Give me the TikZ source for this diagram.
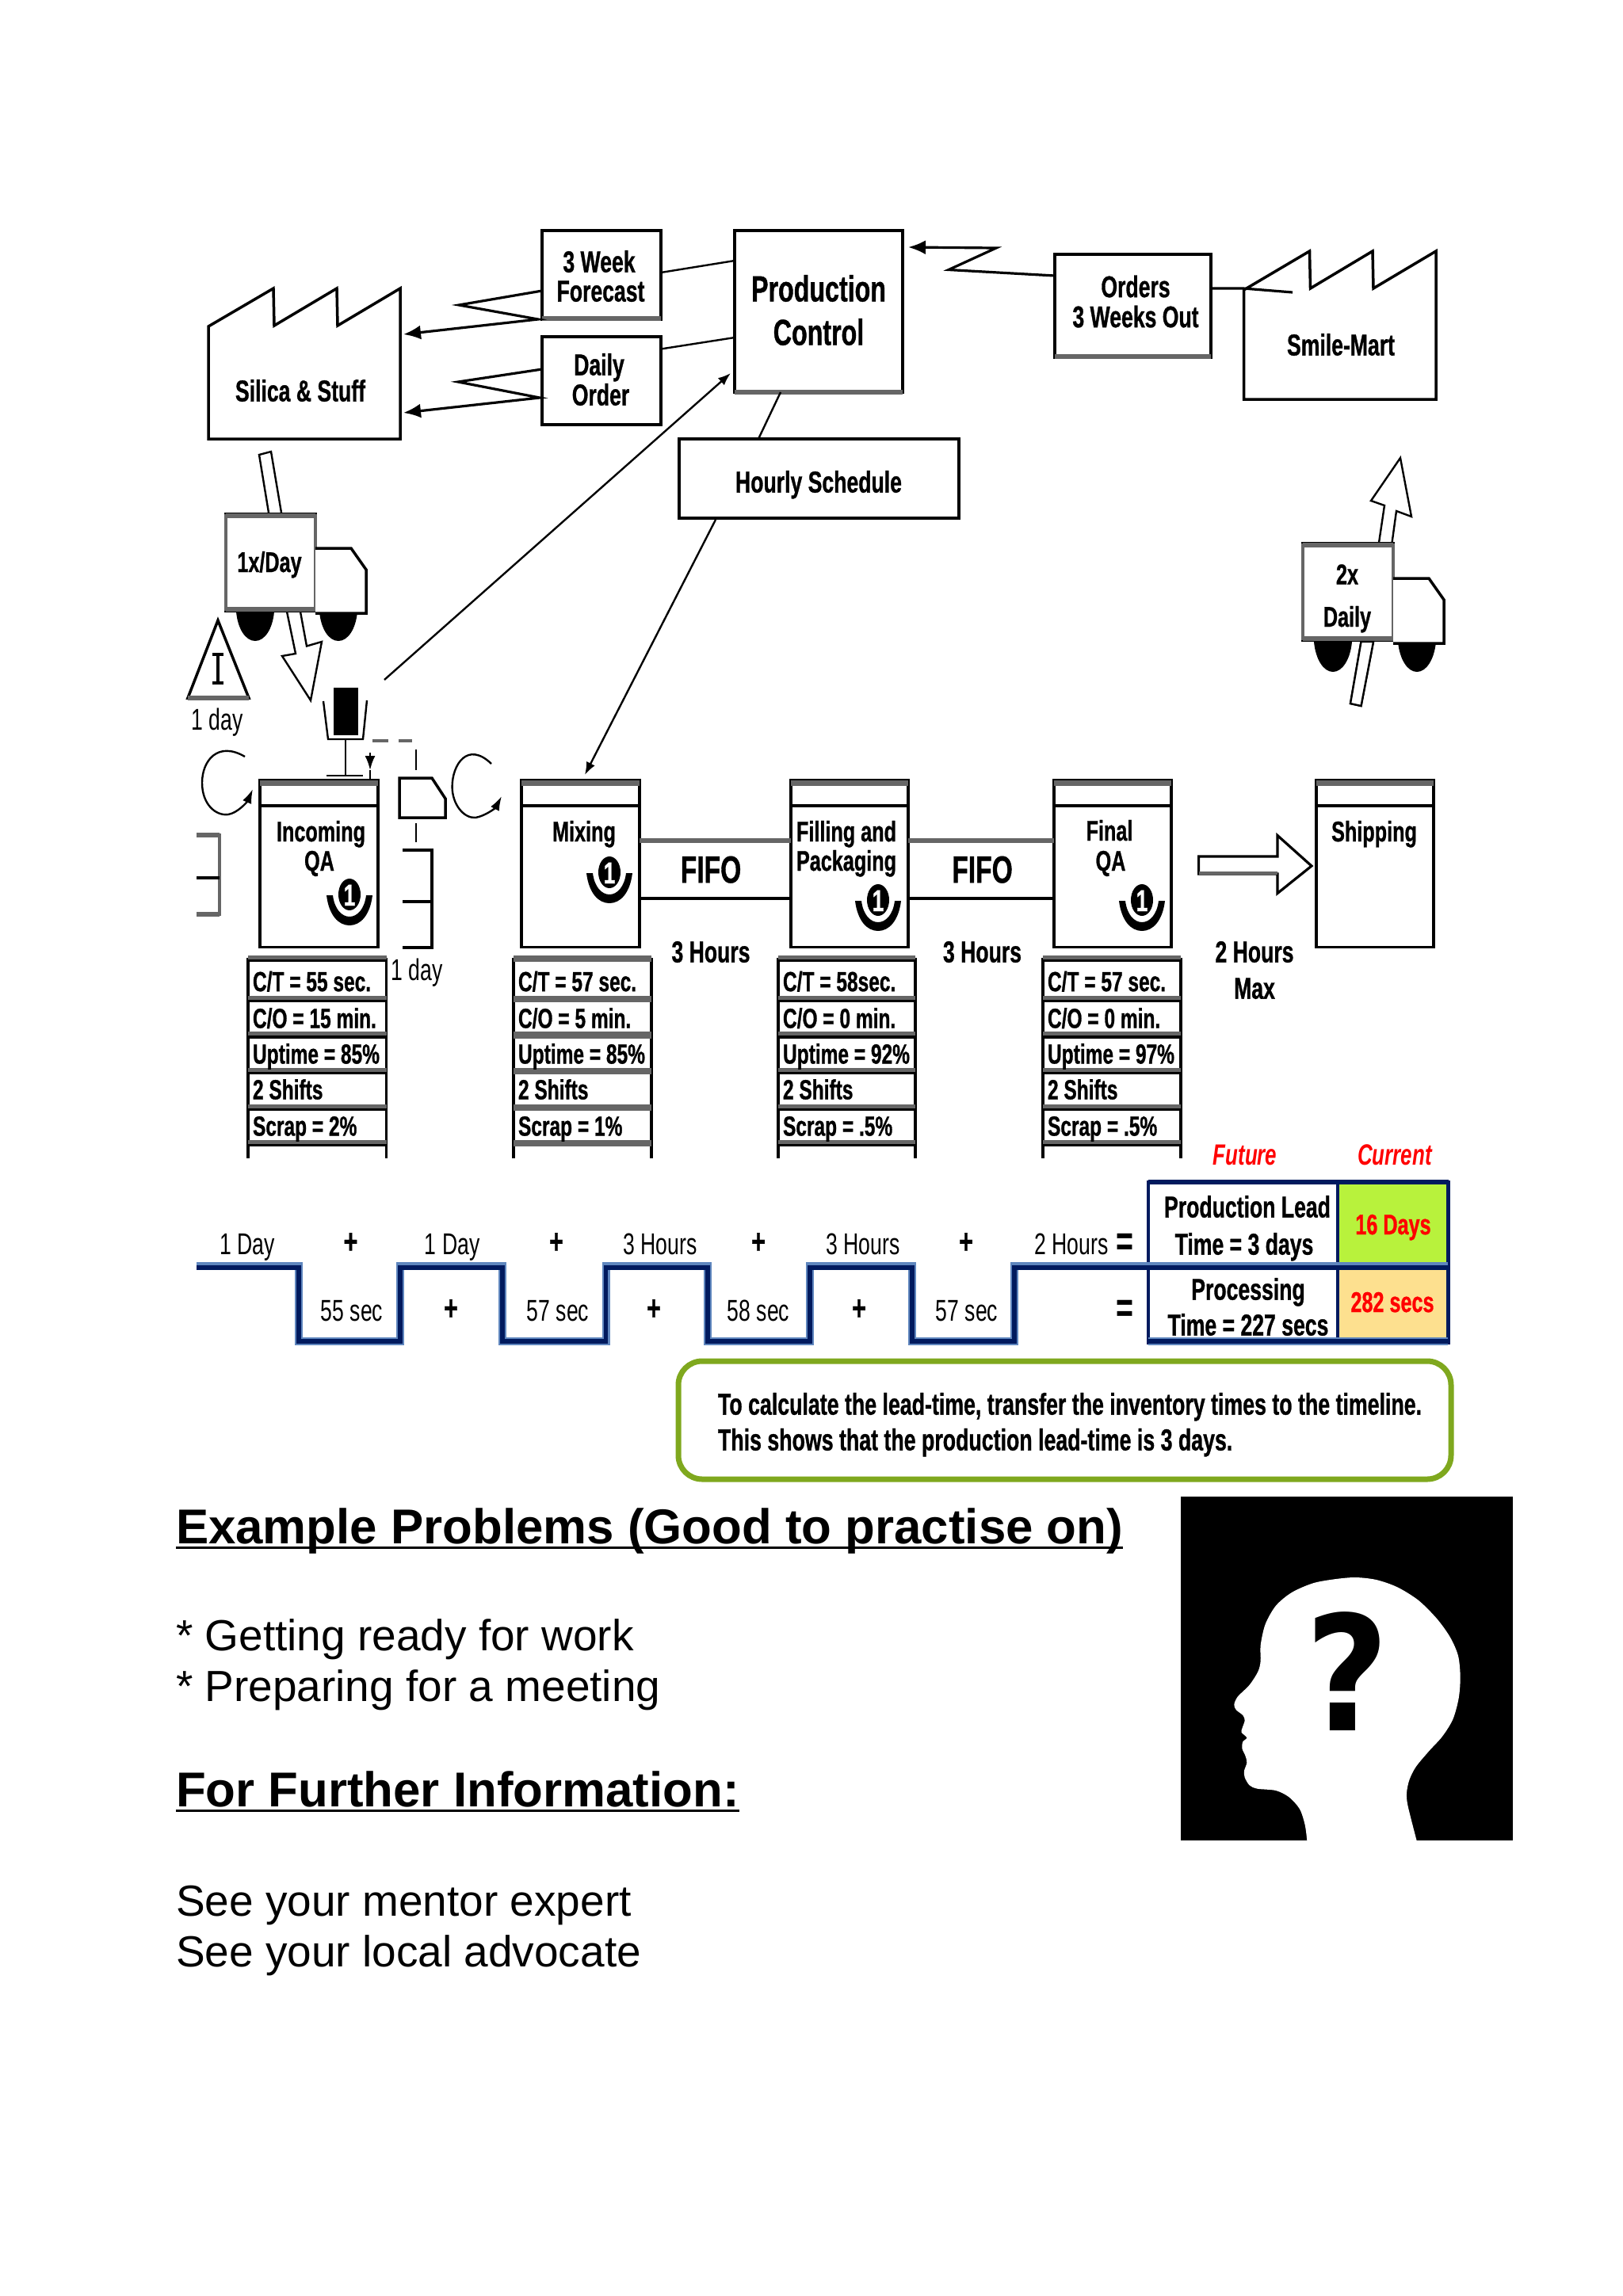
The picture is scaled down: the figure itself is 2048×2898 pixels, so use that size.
\documentclass[tikz,border=0pt]{standalone}
\usepackage{fontspec}
\usetikzlibrary{arrows.meta}
\setmainfont{Liberation Sans}
\newfontfamily\diafont[FakeStretch=0.7,BoldFeatures={FakeBold=0.8}]{Liberation Sans}
\newfontfamily\qfont[FakeStretch=0.9]{DejaVu Sans}
\definecolor{bandgrey}{HTML}{666666}
\definecolor{tlnavy}{HTML}{001A5E}
\definecolor{tlblue}{HTML}{5F86BE}
\definecolor{okgreen}{HTML}{B8F23C}
\definecolor{wheat}{HTML}{FDE08F}
\definecolor{olive}{HTML}{7FA81E}
\tikzset{
  ink/.style={line width=1.75pt,draw=black,line join=miter},
  thin ink/.style={line width=1.2pt,draw=black},
  band/.style={line width=3.2pt,draw=bandgrey},
  boxnode/.style={rectangle,ink,fill=white,inner sep=0pt,outer sep=0pt},
  lb/.style={inner sep=0pt,outer sep=0pt,font=\diafont\bfseries\fontsize{18}{20}\selectfont,text height=13pt,text depth=0pt},
  lbx/.style={lb,font=\diafont\bfseries\fontsize{19}{21}\selectfont,text height=13.6pt},
  lr/.style={inner sep=0pt,outer sep=0pt,font=\diafont\fontsize{19}{21}\selectfont,text height=13.6pt,text depth=0pt},
  lpc/.style={lb,font=\diafont\bfseries\fontsize{23}{25}\selectfont,text height=16.5pt},
  lfifo/.style={lb,font=\diafont\bfseries\fontsize{24}{26}\selectfont,text height=17.2pt},
  lplus/.style={lb,font=\diafont\bfseries\fontsize{22}{24}\selectfont,text height=11pt},
  leq/.style={lb,font=\diafont\bfseries\fontsize{26}{28}\selectfont,text height=11pt},
  lred/.style={lb,text=red},
  lfut/.style={lb,text=red,font=\diafont\bfseries\itshape\fontsize{18.5}{20}\selectfont},
  lcall/.style={lb,anchor=west,font=\diafont\bfseries\fontsize{19.1}{21}\selectfont,text height=13.6pt},
  lrow/.style={lb,anchor=west,font=\diafont\bfseries\fontsize{17.5}{20}\selectfont,text height=12.5pt},
  body/.style={inner sep=0pt,outer sep=0pt,anchor=base west,font=\fontsize{27.5}{30}\selectfont},
  head/.style={body,font=\bfseries\fontsize{30.9}{33}\selectfont},
  headrule/.style={line width=1.75pt,draw=black},
  sig/.style={line width=1.6pt,draw=black,-{Latex[length=11pt,width=9pt]}},
  sigthin/.style={thin ink,-{Latex[length=8pt,width=6pt]}},
  push/.style={thin ink,fill=white,line join=miter},
  tlb/.style={line width=5pt,draw=tlblue,line join=miter},
  tln/.style={line width=2.6pt,draw=tlnavy,line join=miter},
}
\newcommand{\pxbox}[6][]{\node[boxnode,#1,minimum width={(#5-#3)*0.5pt},minimum height={(#6-#4)*0.5pt}] (#2) at ({(#3+#5)/2},{(#4+#6)/2}) {};}
% name xl xr
\newcommand{\procbox}[3]{\pxbox{#1}{#2}{985}{#3}{1195.5}
  \draw[ink] (#2,1017) -- (#3,1017);
  \draw[band] (#2,988.5) -- (#3,988.5);}
% name xl xr colour t1..t5
\newcommand{\datarows}[8]{%
  \draw[ink] (#2,1209) -- (#2,1462) (#3,1209) -- (#3,1462);
  \foreach \yy in {1209,1260,1305.5,1351,1397,1442}{
    \draw[band] (#2,\yy) -- (#3,\yy);
    \draw[line width=1.6pt,draw=#4] (#2,{\yy+3.5}) -- (#3,{\yy+3.5});}
  \node[lrow] (#1ct) at ({#2+6},1238.6) {#5};
  \node[lrow] (#1co) at ({#2+6},1285) {#6};
  \node[lrow] (#1up) at ({#2+6},1330) {#7};
  \node[lrow] (#1sh) at ({#2+6},1375) {2 Shifts};
  \node[lrow] (#1sc) at ({#2+6},1421) {#8};}
% name x y : operator symbol
\newcommand{\opsym}[3]{%
  \fill[black] ({#2-29},{#3+1}) .. controls ({#2-26},{#3+26}) and ({#2-14},{#3+39}) .. ({#2},{#3+39}) .. controls ({#2+14},{#3+39}) and ({#2+26},{#3+26}) .. ({#2+29},{#3+1}) -- ({#2+21},{#3+1}) .. controls ({#2+19},{#3+18}) and ({#2+10},{#3+28}) .. ({#2},{#3+28}) .. controls ({#2-10},{#3+28}) and ({#2-19},{#3+18}) .. ({#2-21},{#3+1}) -- cycle;
  \fill[black] (#2,#3) ellipse [x radius=14,y radius=20];
  \node[lb,text=white,font=\diafont\bfseries\fontsize{19}{21}\selectfont,text height=14pt] (#1) at (#2,#3) {1};}
\newcommand{\wheel}[3]{\fill[black] ({#1-24},#2) .. controls ({#1-22},{#2+22}) and ({#1-12},#3) .. (#1,#3) .. controls ({#1+12},#3) and ({#1+22},{#2+22}) .. ({#1+24},#2) -- cycle;}
\begin{document}
\begin{tikzpicture}[x=0.5pt,y=-0.5pt]
\useasboundingbox[fill=white] (0,0) rectangle (2048,2898);

% --- Supplier factory
\draw[ink,fill=white] (263,412) -- (345,364) -- (346,411) -- (425,364) -- (426,411) -- (505,364) -- (505,554) -- (263,554) -- cycle;
\node[lbx] (silica) at (379,493) {Silica \& Stuff};

% --- Information boxes
\pxbox{forecast}{684}{291}{834}{403}
\draw[band] (684,402) -- (834,402);
\node[lbx] (forecastA) at (756,330) {3 Week};
\node[lbx] (forecastB) at (758,367) {Forecast};
\pxbox{daily}{684}{425}{834}{536}
\node[lbx] (dailyA) at (756,460) {Daily};
\node[lbx] (dailyB) at (758,498) {Order};
\pxbox{pc}{927}{291}{1139}{495}
\draw[band] (927,495) -- (1139,495);
\node[lpc] (pcA) at (1033,364) {Production};
\node[lpc] (pcB) at (1033,419) {Control};
\pxbox{hourly}{857}{554}{1210}{654}
\node[lbx] (hourlyT) at (1033,608) {Hourly Schedule};
\pxbox{orders}{1331}{321}{1528}{451}
\draw[band] (1331,450) -- (1528,450);
\node[lbx] (ordersA) at (1433,361.5) {Orders};
\node[lbx] (ordersB) at (1433,399.5) {3 Weeks Out};

% --- Customer factory
\draw[ink,fill=white] (1569.5,366) -- (1652.5,317) -- (1653.5,364) -- (1732,317) -- (1733,364) -- (1812,317) -- (1812,504) -- (1569.5,504) -- cycle;
\node[lbx] (smile) at (1692,435) {Smile-Mart};

% --- Connectors between the information boxes
\coordinate (fcW) at (684,367);
\coordinate (fcE) at (834,344);
\coordinate (dyW) at (684,466);
\coordinate (dyE) at (834,440.5);
\coordinate (pcF) at (927,329);
\coordinate (pcD) at (927,426);
\coordinate (silF) at (509,422);
\coordinate (silD) at (509,521);
\draw[thin ink] (fcE) -- (pcF);
\draw[thin ink] (dyE) -- (pcD);
\draw[sig] (fcW) -- (579,385) -- (679,403) -- (silF);
\draw[sig] (dyW) -- (578,482) -- (681,502) -- (silD);
\coordinate (ordW) at (1331,348);
\coordinate (ordE) at (1528,364);
\coordinate (pcO) at (1146,312);
\coordinate (smileW) at (1631,369);
\draw[sig] (ordW) -- (1197,340.5) -- (1257,313) -- (pcO);
\draw[line width=1.6pt,draw=black] (ordE) -- (1569,364) -- (smileW);
\draw[thin ink] (pc.south west) ++(58,0) coordinate (pcS) -- (957,554);
\coordinate (armT) at (485,858);
\coordinate (pcT) at (922,471);
\draw[sigthin] (armT) -- (pcT);
\coordinate (hourS) at (903,656);
\coordinate (mixT) at (738,978);
\draw[sigthin] (hourS) -- (mixT);

% --- Inbound truck and push arrow
\draw[push] (327,574) -- (342,570) -- (355,647) -- (379,772) -- (387,815.5) -- (406,810) -- (392,884) -- (356,828) -- (373,825) -- (362,772) -- (339,647) -- cycle;
\wheel{322}{772}{809}
\wheel{427}{772}{809}
\pxbox{truckA}{285}{649}{398}{771}
\draw[band] (285,651) -- (398,651) (285,769) -- (398,769);
\draw[line width=1.75pt,draw=bandgrey] (285,649) -- (285,771) (398,649) -- (398,771);
\draw[ink,fill=white] (398,692) -- (443,692) -- (462,719) -- (462,774) -- (398,774);
\node[lb] (truckAT) at (340,709) {1x/Day};

% --- Outbound truck and push arrow
\draw[push] (1704,888) -- (1717.5,891) -- (1733,810) -- (1756.5,685) -- (1762,645) -- (1781,652) -- (1767,578) -- (1730,632) -- (1747,638) -- (1740,685) -- (1717.5,810) -- cycle;
\wheel{1682}{810}{848}
\wheel{1788}{810}{848}
\pxbox{truckB}{1644}{686}{1758}{808}
\draw[band] (1644,688) -- (1758,688) (1644,806) -- (1758,806);
\draw[line width=1.75pt,draw=bandgrey] (1644,686) -- (1644,808) (1758,686) -- (1758,808);
\draw[ink,fill=white] (1758,730) -- (1803,730) -- (1822,757) -- (1822,812) -- (1758,812);
\node[lb] (truckBa) at (1700,724.5) {2x};
\node[lb] (truckBb) at (1700,778) {Daily};
\draw[thin ink,fill=white] (1704,888) -- (1717.5,891) -- (1733,810) -- (1717.5,810) -- cycle;

% --- Inventory triangle
\draw[ink,fill=white] (275,783) -- (314,881) -- (237,881) -- cycle;
\draw[band] (237,881) -- (314,881);
\draw[line width=2pt] (275,826) -- (275,861.5) (268,826) -- (282,826) (268,861.5) -- (282,861.5);
\node[lr] (invday) at (274,908) {1 day};

% --- Data box, kanban post and signal
\draw[thin ink] (408,885) -- (414,933) -- (458,933) -- (463,884);
\fill[black] (421,868) rectangle (452,928);
\draw[thin ink] (436,933) -- (436,979) (412,979) -- (458,979);
\draw[band,line width=2.4pt] (470,935) -- (490,935) (503,935) -- (520,935);
\coordinate (kanTop) at (467,950);
\coordinate (kanHead) at (467,972);
\draw[thin ink,-{Latex[length=9pt,width=6.5pt]}] (kanTop) -- (kanHead);
\draw[thin ink] (kanHead) -- (467,987);
\draw[thin ink] (525,946) -- (525,972);
\draw[ink,fill=white] (504,982) -- (545,982) -- (562,1008) -- (562,1032) -- (504,1032) -- cycle;
\draw[thin ink] (525,1039) -- (525,1063);

% --- Load-levelling loops
\draw[thin ink,-{Latex[length=9pt,width=6pt]}] (309,955) .. controls (275,935) and (255,960) .. (255,988) .. controls (255,1015) and (272,1030) .. (288,1028) .. controls (300,1026) and (312,1012) .. (319,996);
\draw[thin ink,-{Latex[length=9pt,width=6pt]}] (620,964) .. controls (590,935) and (570.6,965) .. (570.6,993) .. controls (570.6,1015) and (585,1033) .. (600,1032) .. controls (612,1030) and (625,1020) .. (633,1005);

% --- Supermarkets
\draw[ink] (508,1073) -- (545,1073) -- (545,1196) -- (508,1196) (508,1138) -- (545,1138);
\draw[band] (248,1054) -- (277,1054) (248,1154) -- (277,1154);
\draw[line width=1.75pt,draw=bandgrey] (277,1052) -- (277,1156);
\draw[ink] (248,1108) -- (277,1108);
\node[lr] (day2) at (526,1224) {1 day};

% --- Process boxes
\procbox{incoming}{328}{477}
\node[lb] (incA) at (405,1049) {Incoming};
\node[lb] (incB) at (403,1086) {QA};
\opsym{opA}{441}{1129}
\procbox{mixing}{658}{807}
\node[lb] (mixA) at (737,1049) {Mixing};
\opsym{opB}{769}{1101}
\procbox{filling}{998}{1146}
\node[lb,anchor=west] (filA) at (1005,1049) {Filling and};
\node[lb,anchor=west] (filB) at (1005,1086) {Packaging};
\opsym{opC}{1108}{1136}
\procbox{finalqa}{1330}{1478}
\node[lb] (finA) at (1400,1048) {Final};
\node[lb] (finB) at (1401.5,1086) {QA};
\opsym{opD}{1441}{1136}
\procbox{shipping}{1661}{1809}
\node[lb] (shipT) at (1734,1049) {Shipping};

% --- FIFO lanes
\draw[band] (mixing.east |- 0,1061) -- (filling.west |- 0,1061);
\draw[ink] (mixing.east |- 0,1134) -- (filling.west |- 0,1134);
\node[lfifo] (fifoA) at (897,1097) {FIFO};
\draw[band] (filling.east |- 0,1061) -- (finalqa.west |- 0,1061);
\draw[ink] (filling.east |- 0,1134) -- (finalqa.west |- 0,1134);
\node[lfifo] (fifoB) at (1239.5,1097) {FIFO};
\node[lbx] (hrsA) at (897,1201) {3 Hours};
\node[lbx] (hrsB) at (1239.5,1201) {3 Hours};
\node[lbx] (hrsC) at (1583,1201) {2 Hours};
\node[lbx] (hrsD) at (1583,1247) {Max};

% --- Push arrow to shipping
\draw[line width=1.6pt,draw=black,fill=white] (1512.6,1081) -- (1612,1081) -- (1612,1054.5) -- (1655,1093) -- (1612,1127.5) -- (1612,1103) -- (1512.6,1103) -- cycle;
\draw[band,line width=2.2pt] (1512.6,1102) -- (1612,1102);

% --- Data tables
\datarows{dA}{313}{487.5}{black}{C/T = 55 sec.}{C/O = 15 min.}{Uptime = 85\%}{Scrap = 2\%}
\datarows{dB}{648}{822}{bandgrey}{C/T = 57 sec.}{C/O = 5 min.}{Uptime = 85\%}{Scrap = 1\%}
\datarows{dC}{982}{1155}{black}{C/T = 58sec.}{C/O = 0 min.}{Uptime = 92\%}{Scrap = .5\%}
\datarows{dD}{1316}{1490}{black}{C/T = 57 sec.}{C/O = 0 min.}{Uptime = 97\%}{Scrap = .5\%}

% --- Lead-time table cells
\node[lfut] (future) at (1571,1457) {Future};
\node[lfut] (current) at (1760,1457) {Current};
\path[fill=okgreen] (1688,1494) rectangle (1827,1594);
\path[fill=wheat] (1688,1601) rectangle (1827,1690);
\draw[line width=2.6pt,draw=tlnavy] (1449,1492) -- (1827.5,1492);
\draw[line width=2.4pt,draw=tlnavy] (1449,1490) -- (1449,1697) (1827.5,1490) -- (1827.5,1697) (1688,1492) -- (1688,1693);
\node[lbx] (leadA) at (1574,1523) {Production Lead};
\node[lbx] (leadB) at (1570,1570) {Time = 3 days};
\node[lbx] (procA) at (1575,1627) {Processing};
\node[lbx] (procB) at (1575,1672) {Time = 227 secs};
\node[lred] (days) at (1758,1545) {16 Days};
\node[lred] (secs) at (1757,1643) {282 secs};

% --- Timeline
\draw[tlb] (248,1598) -- (377,1598) -- (377,1693) -- (505,1693) -- (505,1598) -- (634,1598) -- (634,1693) -- (764.5,1693) -- (764.5,1598) -- (893,1598) -- (893,1693) -- (1022,1693) -- (1022,1598) -- (1151,1598) -- (1151,1693) -- (1280,1693) -- (1280,1598) -- (1827,1598);
\draw[tlb] (1449,1693) -- (1827,1693);
\draw[tln] (248,1600) -- (377,1600) -- (377,1693) -- (505,1693) -- (505,1600) -- (634,1600) -- (634,1693) -- (764.5,1693) -- (764.5,1600) -- (893,1600) -- (893,1693) -- (1022,1693) -- (1022,1600) -- (1151,1600) -- (1151,1693) -- (1280,1693) -- (1280,1600) -- (1827,1600);
\draw[tln] (1449,1693) -- (1827,1693);
\node[lr] (t1) at (312,1570) {1 Day};
\node[lplus] (p1) at (442.5,1571) {+};
\node[lr] (t2) at (570.6,1570) {1 Day};
\node[lplus] (p2) at (702,1571) {+};
\node[lr] (t3) at (833,1570) {3 Hours};
\node[lplus] (p3) at (957,1571) {+};
\node[lr] (t4) at (1089,1570) {3 Hours};
\node[lplus] (p4) at (1219,1571) {+};
\node[lr] (t5) at (1352,1570) {2 Hours};
\node[leq] (e1) at (1419,1573) {=};
\node[lr] (b1) at (444,1654) {55 sec};
\node[lplus] (q1) at (569,1655) {+};
\node[lr] (b2) at (704,1654) {57 sec};
\node[lplus] (q2) at (825,1655) {+};
\node[lr] (b3) at (957,1654) {58 sec};
\node[lplus] (q3) at (1084,1655) {+};
\node[lr] (b4) at (1220,1654) {57 sec};
\node[leq] (e2) at (1419,1657) {=};

% --- Callout
\draw[line width=3.5pt,draw=olive,rounded corners=15pt] (856,1718) rectangle (1831,1867);
\node[lcall] (callA) at (906,1772) {To calculate the lead-time, transfer the inventory times to the timeline.};
\node[lcall] (callB) at (906,1817) {This shows that the production lead-time is 3 days.};

% --- Lower text
\node[head] (ex) at (222,1948) {Example Problems (Good to practise on)};
\draw[headrule] ([yshift=-2.8pt]ex.base west) -- ([yshift=-2.8pt]ex.base east);
\node[body] (b1a) at (222,2083) {* Getting ready for work};
\node[body] (b1b) at (222,2147) {* Preparing for a meeting};
\node[head] (ff) at (222,2280) {For Further Information:};
\draw[headrule] ([yshift=-2.8pt]ff.base west) -- ([yshift=-2.8pt]ff.base east);
\node[body] (b2a) at (222,2418) {See your mentor expert};
\node[body] (b2b) at (222,2482) {See your local advocate};

% --- Head picture
\fill[black] (1490,1889) rectangle (1908.7,2323);
\begin{scope}[shift={(1470,1870)},x=0.16667pt,y=-0.16667pt]
\fill[white] plot[smooth,tension=0.5] coordinates {(538,1360) (530,1300) (510,1240) (470,1195) (420,1170) (350,1163) (320,1150) (302,1120) (300,1095) (310,1065) (305,1040) (292,1010) (295,985) (310,970) (290,950) (292,935) (302,905) (295,885) (270,865) (262,845) (275,815) (320,770) (352,720) (362,680) (362,620) (380,540) (420,470) (480,420) (560,385) (640,370) (720,363) (800,372) (880,400) (960,450) (1030,520) (1080,590) (1110,660) (1118,740) (1112,820) (1090,900) (1050,965) (1000,1020) (950,1080) (925,1130) (915,1180) (920,1230) (953,1360)} -- cycle;
\end{scope}
\node[inner sep=0pt,outer sep=0pt,font=\qfont\bfseries\fontsize{101}{101}\selectfont,text height=74pt,text depth=0pt] (qmark) at (1700,2110) {?};
\end{tikzpicture}
\end{document}
